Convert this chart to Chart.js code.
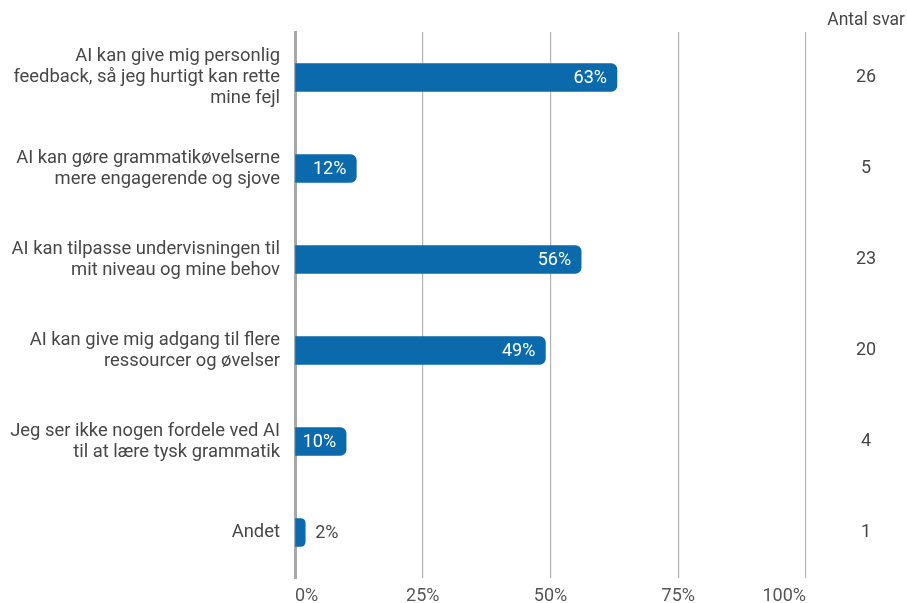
<!DOCTYPE html>
<html>
<head>
<meta charset="utf-8">
<script src="https://cdn.jsdelivr.net/npm/chart.js@4/dist/chart.umd.min.js"></script>
<style>
  html, body { margin: 0; padding: 0; background: #fff; }
  #wrap { width: 907px; height: 603px; position: relative; }
</style>
</head>
<body>
<div id="wrap"><canvas id="c"></canvas></div>
<script>
// Survey answers: share of respondents per option, and number of answers
const categories = [
  ['AI kan give mig personlig', 'feedback, så jeg hurtigt kan rette', 'mine fejl'],
  ['AI kan gøre grammatikøvelserne', 'mere engagerende og sjove'],
  ['AI kan tilpasse undervisningen til', 'mit niveau og mine behov'],
  ['AI kan give mig adgang til flere', 'ressourcer og øvelser'],
  ['Jeg ser ikke nogen fordele ved AI', 'til at lære tysk grammatik'],
  'Andet'
];
const percentValues = [63, 12, 56, 49, 10, 2];
const answerCounts = ['26', '5', '23', '20', '4', '1'];
const xTickValues = [0, 25, 50, 75, 100];
const countHeader = 'Antal svar';

const FONT = 'Roboto, "Noto Sans", sans-serif';
const TEXT = '#474747';
const BAR = '#0b6aab';

// Writes each percentage at the end of its bar (inside when the bar is wide enough)
const barValueLabels = {
  id: 'barValueLabels',
  afterDatasetsDraw(chart) {
    const ctx = chart.ctx;
    const meta = chart.getDatasetMeta(0);
    ctx.save();
    ctx.textBaseline = 'middle';
    ctx.font = '18px ' + FONT;
    meta.data.forEach((bar, i) => {
      const v = percentValues[i];
      const txt = v + '%';
      if (v >= 8) {
        ctx.fillStyle = '#ffffff';
        ctx.textAlign = 'right';
        ctx.fillText(txt, bar.x - 10, bar.y + 1);
      } else {
        ctx.fillStyle = TEXT;
        ctx.textAlign = 'left';
        ctx.fillText(txt, bar.x + 10, bar.y + 1);
      }
    });
    ctx.restore();
  }
};

// Keep overflowing multi-line labels from shrinking the plot area
function noEdgePadding(scale) {
  scale.paddingTop = 0;
  scale.paddingBottom = 0;
  scale.paddingLeft = 0;
  scale.paddingRight = 0;
}

new Chart(document.getElementById('c'), {
  type: 'bar',
  data: {
    labels: categories,
    datasets: [{
      data: percentValues,
      backgroundColor: BAR,
      borderRadius: 6,
      borderSkipped: 'start',
      barThickness: 28
    }]
  },
  options: {
    indexAxis: 'y',
    responsive: true,
    maintainAspectRatio: false,
    animation: false,
    layout: { padding: { left: 0, right: 2, top: 0, bottom: 0 } },
    plugins: {
      legend: { display: false },
      tooltip: { enabled: false },
      title: {
        display: true,
        text: countHeader,
        align: 'end',
        color: TEXT,
        font: { family: FONT, size: 17.5, weight: 'normal', lineHeight: 1.2 },
        padding: { top: 10, bottom: 1 }
      }
    },
    scales: {
      x: {
        min: 0,
        max: 100,
        afterBuildTicks(scale) {
          scale.ticks = xTickValues.map(v => ({ value: v }));
        },
        afterFit(scale) {
          noEdgePadding(scale);
          scale.height = 25;
        },
        grid: { color: '#b3b3b3', lineWidth: 1.2, drawTicks: false },
        border: { display: false },
        ticks: {
          align: 'inner',
          color: '#555',
          font: { family: FONT, size: 18 },
          padding: 8,
          callback: v => v + '%'
        }
      },
      y: {
        position: 'left',
        grid: { display: false, drawTicks: false },
        border: { display: true, color: '#a8a8a8', width: 3 },
        afterFit(scale) {
          noEdgePadding(scale);
          scale.width = 295;
        },
        ticks: {
          color: TEXT,
          font: { family: FONT, size: 18.4, lineHeight: 1.15 },
          padding: 15
        }
      },
      y2: {
        type: 'category',
        position: 'right',
        labels: answerCounts,
        offset: true,
        grid: { display: false, drawTicks: false },
        border: { display: false },
        afterFit(scale) {
          noEdgePadding(scale);
          scale.width = 99;
        },
        ticks: {
          crossAlign: 'center',
          color: TEXT,
          font: { family: FONT, size: 18 },
          padding: 50
        }
      }
    }
  },
  plugins: [barValueLabels]
});
</script>
</body>
</html>
